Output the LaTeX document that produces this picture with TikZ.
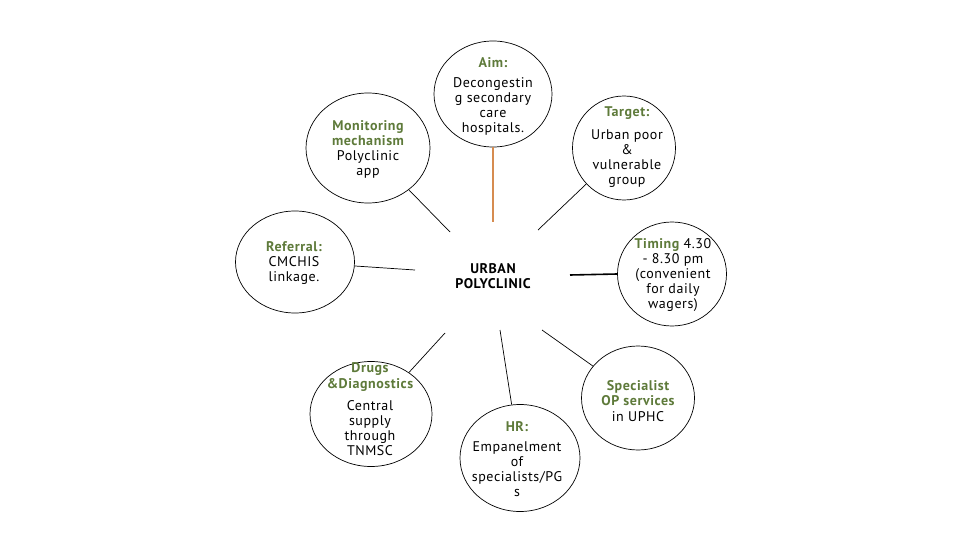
\documentclass[tikz,border=0pt]{standalone}
\usepackage{fontspec}
\setmainfont[LetterSpace=4]{PT Sans}
\usetikzlibrary{shapes.geometric}
\definecolor{hgreen}{RGB}{94,122,58}
\definecolor{lorange}{RGB}{214,140,80}
\tikzset{
  bub/.style={ellipse, draw=black, line width=0.7pt, inner sep=0pt},
  hd/.style={font=\fontsize{14}{15.5}\selectfont\bfseries, text=hgreen, align=center, inner sep=0pt},
  bd/.style={font=\fontsize{14}{15}\selectfont, text=black, align=center, inner sep=0pt},
  conn/.style={draw=black, line width=0.7pt},
}
\begin{document}
\begin{tikzpicture}[x=1pt,y=-1pt]
\useasboundingbox (0,0) rectangle (960,540);
% bubbles
\node[bub, minimum width=118, minimum height=106] (aim) at (493,94) {};
\node[bub, minimum width=124, minimum height=110] (mon) at (368,148) {};
\node[bub, minimum width=103, minimum height=104] (tgt) at (624,148) {};
\node[bub, minimum width=119, minimum height=102] (ref) at (295,262) {};
\node[bub, minimum width=109, minimum height=104] (tim) at (672,274) {};
\node[bub, minimum width=122, minimum height=105] (drg) at (371,414) {};
\node[bub, minimum width=120, minimum height=107] (hr) at (520,458) {};
\node[bub, minimum width=113, minimum height=104] (spc) at (638,398) {};
% inner ends
\coordinate (ea) at (493,222);
\coordinate (em) at (450,232);
\coordinate (et) at (538,230);
\coordinate (er) at (415,270);
\coordinate (ei) at (570,275);
\coordinate (ed) at (445,333);
\coordinate (eh) at (500,330);
\coordinate (es) at (542,330);
% connectors
\draw[draw=lorange, line width=1.6pt] (aim) -- (ea);
\draw[conn] (mon) -- (em);
\draw[conn] (tgt) -- (et);
\draw[conn] (ref) -- (er);
\draw[draw=black, line width=1.6pt] (tim.west) -- (ei);
\draw[conn] (drg) -- (ed);
\draw[conn] (hr) -- (eh);
\draw[conn] (spc) -- (es);
% center
\node[font=\fontsize{14}{15}\selectfont\bfseries, align=center, inner sep=0pt] (ctr) at (493,276) {URBAN\\POLYCLINIC};
% texts
\node[hd] (aimh) at (493,63) {Aim:};
\node[bd] (aimb) at (493,106) {Decongestin\\g secondary\\care\\hospitals.};
\node[hd] (monh) at (368,133) {Monitoring\\mechanism};
\node[bd] (monb) at (368,164) {Polyclinic\\app};
\node[hd] (tgth) at (627,113) {Target:};
\node[bd] (tgtb) at (627,159) {Urban poor\\\&\\vulnerable\\group};
\node[hd] (refh) at (294,247) {Referral:};
\node[bd] (refb) at (294,270) {CMCHIS\\linkage.};
\node[bd] (timb) at (673,275) {\textcolor{hgreen}{\bfseries Timing} 4.30\\- 8.30 pm\\(convenient\\for daily\\wagers)};
\node[hd] (drgh) at (370,377) {Drugs\\\&Diagnostics};
\node[bd] (drgb) at (370,428) {Central\\supply\\through\\TNMSC};
\node[hd] (hrh) at (517,427) {HR:};
\node[bd] (hrb) at (517,469) {Empanelment\\of\\specialists/PG\\s};
\node[hd] (spch) at (638,393) {Specialist\\OP services};
\node[bd] (spcb) at (638,417) {in UPHC};
\end{tikzpicture}
\end{document}
